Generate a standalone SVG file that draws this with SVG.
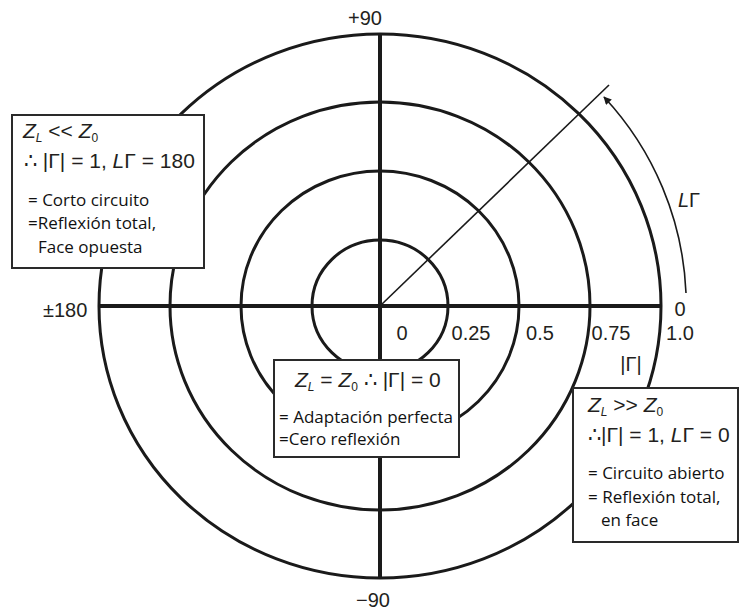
<svg xmlns="http://www.w3.org/2000/svg" width="739" height="613" viewBox="0 0 739 613">
<style>
.ring{fill:none;stroke:#1a1a1a;stroke-width:3}
.axis{stroke:#1a1a1a;stroke-width:4}
.thin{fill:none;stroke:#1a1a1a;stroke-width:1.6}
.box{fill:#fff;stroke:#2a2a2a;stroke-width:2}
.lab{font-family:"Liberation Sans Narrow","Liberation Sans",Arial,sans-serif;font-size:20px;fill:#231f20}
.fm{font-family:"Liberation Sans Narrow","Liberation Sans",Arial,sans-serif;font-size:21px;fill:#231f20}
.tx{font-family:"Open Sans","Noto Sans",sans-serif;font-size:17px;fill:#111}
.it{font-style:italic}
.sub{font-size:12px}
</style>
<defs>
<marker id="ah" viewBox="0 0 10 10" refX="9" refY="5" markerWidth="10" markerHeight="8" markerUnits="userSpaceOnUse" orient="auto">
<path d="M0 0 L10 5 L0 10 z" fill="#1a1a1a"/>
</marker>
</defs>
<g id="rings">
<ellipse class="ring" cx="380" cy="306" rx="281" ry="272"/>
<ellipse class="ring" cx="380" cy="306" rx="210" ry="204"/>
<ellipse class="ring" cx="380" cy="306" rx="139" ry="135"/>
<ellipse class="ring" cx="380" cy="306" rx="68" ry="66"/>
</g>
<g id="connectors">
<line class="axis" x1="380" y1="33" x2="380" y2="578"/>
<line class="axis" x1="99" y1="306" x2="661" y2="306"/>
<line class="thin" x1="380" y1="306" x2="609" y2="85"/>
<path class="thin" d="M686 293 A306 306 0 0 0 604 97" marker-end="url(#ah)"/>
</g>
<g id="axis-labels">
<text class="lab" x="365" y="25" text-anchor="middle">+90</text>
<text class="lab" x="373" y="607" text-anchor="middle">−90</text>
<text class="lab" x="43" y="317">±180</text>
<text class="lab" x="680" y="316" text-anchor="middle">0</text>
<text class="lab" x="402" y="340" text-anchor="middle">0</text>
<text class="lab" x="471" y="340" text-anchor="middle">0.25</text>
<text class="lab" x="540" y="340" text-anchor="middle">0.5</text>
<text class="lab" x="611" y="340" text-anchor="middle">0.75</text>
<text class="lab" x="680" y="340" text-anchor="middle">1.0</text>
<text class="lab" x="631" y="371" text-anchor="middle">|Γ|</text>
<text class="lab" x="689" y="207" text-anchor="middle"><tspan class="it">L</tspan>Γ</text>
</g>
<g id="box-short">
<rect class="box" x="12" y="115" width="192" height="153"/>
<text class="fm" x="23" y="138"><tspan class="it">Z</tspan><tspan class="sub it" dy="4">L</tspan><tspan dy="-4"> &lt;&lt; </tspan><tspan class="it">Z</tspan><tspan class="sub" dy="4">0</tspan></text>
<text class="fm" x="24" y="168">∴ |Γ| = 1, <tspan class="it">L</tspan>Γ = 180</text>
<text class="tx" x="28" y="206">= Corto circuito</text>
<text class="tx" x="28" y="229">=Reflexión total,</text>
<text class="tx" x="38" y="253">Face opuesta</text>
</g>
<g id="box-match">
<rect class="box" x="274" y="360" width="185" height="97"/>
<text class="fm" x="295" y="387"><tspan class="it">Z</tspan><tspan class="sub it" dy="4">L</tspan><tspan dy="-4"> = </tspan><tspan class="it">Z</tspan><tspan class="sub" dy="4">0</tspan><tspan dy="-4"> ∴ |Γ| = 0</tspan></text>
<text class="tx" x="279" y="423">= Adaptación perfecta</text>
<text class="tx" x="279" y="445">=Cero reflexión</text>
</g>
<g id="box-open">
<rect class="box" x="573" y="388" width="165" height="154"/>
<text class="fm" x="588" y="412"><tspan class="it">Z</tspan><tspan class="sub it" dy="4">L</tspan><tspan dy="-4"> &gt;&gt; </tspan><tspan class="it">Z</tspan><tspan class="sub" dy="4">0</tspan></text>
<text class="fm" x="588" y="442">∴|Γ| = 1, <tspan class="it">L</tspan>Γ = 0</text>
<text class="tx" x="588" y="479">= Circuito abierto</text>
<text class="tx" x="588" y="503">= Reflexión total,</text>
<text class="tx" x="601" y="526">en face</text>
</g>
</svg>
